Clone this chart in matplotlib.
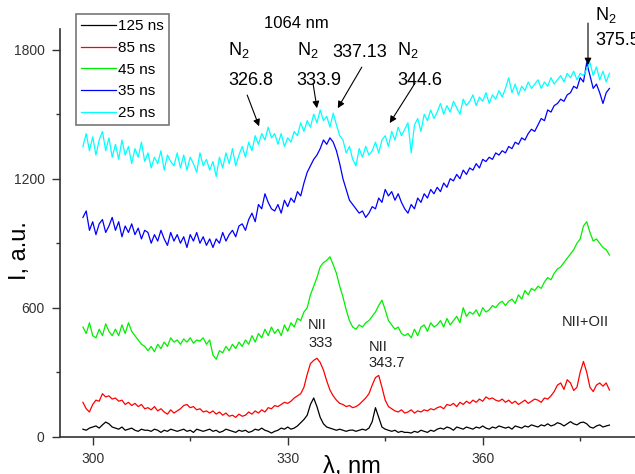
import numpy as np
import matplotlib.pyplot as plt
from matplotlib.ticker import MultipleLocator

plt.rcParams['font.family'] = ['Liberation Sans', 'DejaVu Sans']
plt.rcParams['mathtext.default'] = 'regular'

# wavelength grid, nm (0.5 nm step)
wl = np.arange(298.5, 379.51, 0.5)

# 125 ns
i125 = [35, 30, 40, 45, 50, 40, 55, 68, 60, 45,
        40, 35, 45, 30, 35, 40, 30, 25, 35, 30,
        30, 25, 35, 30, 20, 30, 25, 35, 30, 25,
        30, 35, 25, 30, 20, 35, 30, 25, 30, 35,
        25, 30, 20, 25, 35, 30, 25, 20, 30, 25,
        30, 20, 25, 35, 30, 40, 30, 25, 17, 25,
        30, 40, 35, 45, 35, 40, 50, 65, 80, 100,
        150, 180, 140, 90, 60, 45, 40, 35, 30, 35,
        30, 25, 30, 31, 25, 30, 35, 30, 40, 70,
        135, 90, 45, 35, 30, 25, 30, 20, 25, 20,
        20, 17, 25, 20, 30, 25, 20, 30, 25, 35,
        40, 35, 45, 40, 30, 45, 40, 35, 45, 40,
        35, 45, 40, 50, 40, 35, 45, 40, 50, 45,
        40, 45, 35, 50, 45, 40, 50, 45, 55, 50,
        45, 55, 50, 60, 50, 55, 65, 60, 50, 60,
        70, 60, 55, 65, 68, 60, 45, 40, 50, 55,
        45, 50, 54]

# 85 ns
i85 = [160, 130, 115, 150, 170, 165, 200, 185, 190, 175,
       180, 165, 170, 150, 160, 145, 155, 140, 150, 130,
       135, 125, 140, 120, 130, 115, 105, 125, 110, 120,
       130, 145, 150, 135, 140, 125, 130, 115, 120, 110,
       120, 105, 115, 100, 110, 95, 100, 90, 105, 95,
       100, 115, 105, 120, 110, 125, 115, 135, 130, 145,
       140, 150, 160, 155, 165, 180, 190, 200, 230, 290,
       340, 355, 365, 345, 310, 260, 217, 190, 170, 155,
       150, 140, 145, 135, 140, 150, 165, 180, 200, 240,
       275, 285, 230, 170, 140, 130, 120, 115, 125, 110,
       115, 125, 110, 120, 115, 125, 120, 130, 125, 135,
       140, 130, 150, 145, 155, 140, 160, 150, 165, 155,
       170, 160, 175, 165, 185, 175, 180, 170, 165, 175,
       160, 170, 155, 165, 150, 160, 170, 155, 165, 175,
       170, 160, 180, 175, 190, 210, 240, 250, 220, 265,
       250, 215, 230, 300, 350, 300, 230, 210, 240, 250,
       235, 250, 217]

# 45 ns
i45 = [510, 480, 530, 470, 460, 500, 470, 525, 490, 470,
       500, 470, 520, 480, 530, 490, 470, 450, 430, 420,
       400, 420, 395, 430, 410, 440, 420, 460, 440, 450,
       430, 455, 440, 460, 435, 450, 445, 460, 430, 450,
       380, 360, 400, 390, 420, 400, 430, 410, 440, 420,
       450, 430, 470, 440, 480, 460, 500, 470, 510, 480,
       500, 470, 520, 490, 530, 510, 550, 540, 580, 600,
       660, 700, 740, 790, 810, 820, 837, 800, 760, 700,
       650, 590, 540, 510, 500, 520, 510, 530, 540, 560,
       580, 610, 635, 590, 540, 520, 500, 510, 480, 470,
       480, 460, 500, 470, 510, 520, 490, 530, 510, 520,
       540, 510, 550, 520, 540, 560, 530, 600, 560, 580,
       570, 590, 560, 600, 580, 590, 610, 600, 620, 630,
       610, 630, 640, 620, 660, 640, 680, 660, 690, 680,
       700, 690, 720, 740, 730, 760, 780, 790, 810, 830,
       850, 870, 900, 920, 980, 1000, 950, 910, 920, 900,
       880, 870, 845]

# 35 ns
i35 = [1020, 1050, 960, 1000, 940, 990, 1010, 950, 980, 1020,
       960, 1000, 930, 980, 950, 990, 940, 970, 920, 960,
       950, 900, 940, 910, 960, 920, 890, 950, 910, 940,
       900, 930, 880, 940, 910, 950, 900, 930, 890, 920,
       880, 920, 900, 950, 910, 940, 960, 930, 980, 990,
       960, 1010, 1040, 1000, 1080, 1060, 1130, 1090, 1060, 1050,
       1080, 1040, 1100, 1070, 1110, 1090, 1140, 1120, 1180, 1230,
       1260, 1290, 1310, 1340, 1380, 1360, 1390, 1370, 1330, 1270,
       1200, 1150, 1100, 1080, 1060, 1040, 1050, 1020, 1040, 1070,
       1060, 1110, 1090, 1150, 1120, 1140, 1100, 1130, 1090, 1060,
       1040, 1080, 1060, 1110, 1090, 1130, 1110, 1150, 1130, 1160,
       1140, 1180, 1160, 1200, 1190, 1220, 1200, 1240, 1220, 1250,
       1240, 1270, 1250, 1290, 1280, 1300, 1290, 1320, 1310, 1330,
       1320, 1350, 1340, 1370, 1360, 1390, 1380, 1410, 1430, 1420,
       1450, 1480, 1470, 1520, 1510, 1540, 1550, 1570, 1560, 1590,
       1600, 1630, 1620, 1670, 1650, 1740, 1680, 1620, 1640, 1600,
       1550, 1600, 1620]

# 25 ns
i25 = [1350, 1410, 1330, 1395, 1310, 1380, 1420, 1330, 1390, 1300,
       1360, 1290, 1380, 1310, 1350, 1270, 1340, 1300, 1370, 1280,
       1320, 1250, 1300, 1270, 1330, 1240, 1310, 1280, 1260, 1320,
       1250, 1310, 1240, 1300, 1270, 1230, 1320, 1260, 1290, 1240,
       1280, 1210, 1300, 1250, 1320, 1270, 1340, 1260, 1310, 1350,
       1300, 1370, 1330, 1400, 1360, 1410, 1380, 1440, 1390, 1410,
       1360, 1410, 1350, 1390, 1370, 1420, 1400, 1460, 1420, 1470,
       1440, 1500, 1460, 1520, 1470, 1490, 1440, 1505, 1450, 1400,
       1380, 1320, 1350, 1290, 1260, 1340, 1300, 1350, 1310, 1330,
       1370, 1320, 1380, 1400, 1350, 1420, 1380, 1440, 1400, 1430,
       1460, 1320, 1450, 1480, 1420, 1500, 1470, 1520, 1480, 1510,
       1550, 1500, 1540, 1510, 1560, 1530, 1500, 1570, 1540, 1560,
       1590, 1540, 1580, 1560, 1600, 1550, 1590, 1570, 1610, 1580,
       1620, 1670, 1600, 1640, 1590, 1630, 1610, 1650, 1620, 1640,
       1660, 1620, 1650, 1630, 1670, 1640, 1660, 1680, 1650, 1690,
       1670, 1700, 1660, 1690, 1680, 1710, 1740, 1680, 1720, 1660,
       1700, 1650, 1690]

series = [(i125, '125 ns', 'black'),
          (i85, '85 ns', '#ff0000'),
          (i45, '45 ns', '#00ee00'),
          (i35, '35 ns', '#0000ff'),
          (i25, '25 ns', '#00ffff')]

fig = plt.figure(figsize=(6.35, 4.74), dpi=100)
ax = fig.add_axes([60/635, 37.3/474, 575/635, 407.4/474])

for ys, lab, col in series:
    ax.plot(wl, ys, color=col, lw=0.9, label=lab)

ax.set_xlim(294.97, 383.43)
ax.set_ylim(0, 1895)
ax.xaxis.set_major_locator(MultipleLocator(30))
ax.xaxis.set_minor_locator(MultipleLocator(15))
ax.yaxis.set_major_locator(MultipleLocator(600))
ax.yaxis.set_minor_locator(MultipleLocator(300))
ax.set_xticks([300, 330, 360])
ax.tick_params(which='major', direction='out', length=6, width=1, labelsize=10,
               colors='#333333', pad=5)
ax.tick_params(which='minor', direction='out', length=3, width=1, colors='#333333')
for s in ['top', 'right']:
    ax.spines[s].set_visible(False)
for s in ['left', 'bottom']:
    ax.spines[s].set_linewidth(1.2)
    ax.spines[s].set_color('#333333')

ax.set_xlabel('λ, nm', fontsize=17)
ax.xaxis.label.set_va('baseline')
ax.xaxis.set_label_coords(0.508, -0.09)
ax.set_ylabel('I, a.u.', fontsize=17)
ax.yaxis.set_label_coords(-0.05, 0.458)

leg = ax.legend(loc='upper left', bbox_to_anchor=(76/635, 1 - 14/474),
                bbox_transform=fig.transFigure, borderaxespad=0, fontsize=11,
                handlelength=2.3, handletextpad=0.1, labelspacing=0.5,
                borderpad=0.35, fancybox=False, framealpha=1, edgecolor='#777777')
leg.get_frame().set_linewidth(1.2)

kw = dict(fontsize=13, clip_on=False, va='center', ha='left')
ax.text(331.35, 1924, '1064 nm', fontsize=12, ha='center', va='center', clip_on=False)

ax.text(320.85, 1798, 'N$_2$', **kw)
ax.text(320.85, 1659, '326.8', **kw)
ax.text(331.4, 1798, 'N$_2$', **kw)
ax.text(331.4, 1659, '333.9', **kw)
ax.text(336.8, 1789, '337.13', **kw)
ax.text(346.8, 1798, 'N$_2$', **kw)
ax.text(346.8, 1659, '344.6', **kw)
ax.text(377.3, 1961, 'N$_2$', **kw)
ax.text(377.3, 1845, '375.5', **kw)

arrows = [((323.77, 1589), (325.6, 1444)),
          ((333.9, 1643), (334.5, 1528)),
          ((341.4, 1719), (337.7, 1528)),
          ((349.6, 1645), (345.7, 1459)),
          ((376.2, 1924), (376.2, 1729))]
for tail, head in arrows:
    ax.annotate('', xy=head, xytext=tail, annotation_clip=False,
                arrowprops=dict(arrowstyle='-|>', color='black', lw=0.8,
                                mutation_scale=10, shrinkA=0, shrinkB=0))

kw2 = dict(fontsize=10.5, va='center', ha='left', color='#222222')
ax.text(333.15, 519, 'NII', **kw2)
ax.text(333.15, 435, '333', **kw2)
ax.text(342.5, 417, 'NII', **kw2)
ax.text(342.5, 343, '343.7', **kw2)
ax.text(372.2, 533, 'NII+OII', **kw2)

fig.savefig('out.png', dpi=100)
